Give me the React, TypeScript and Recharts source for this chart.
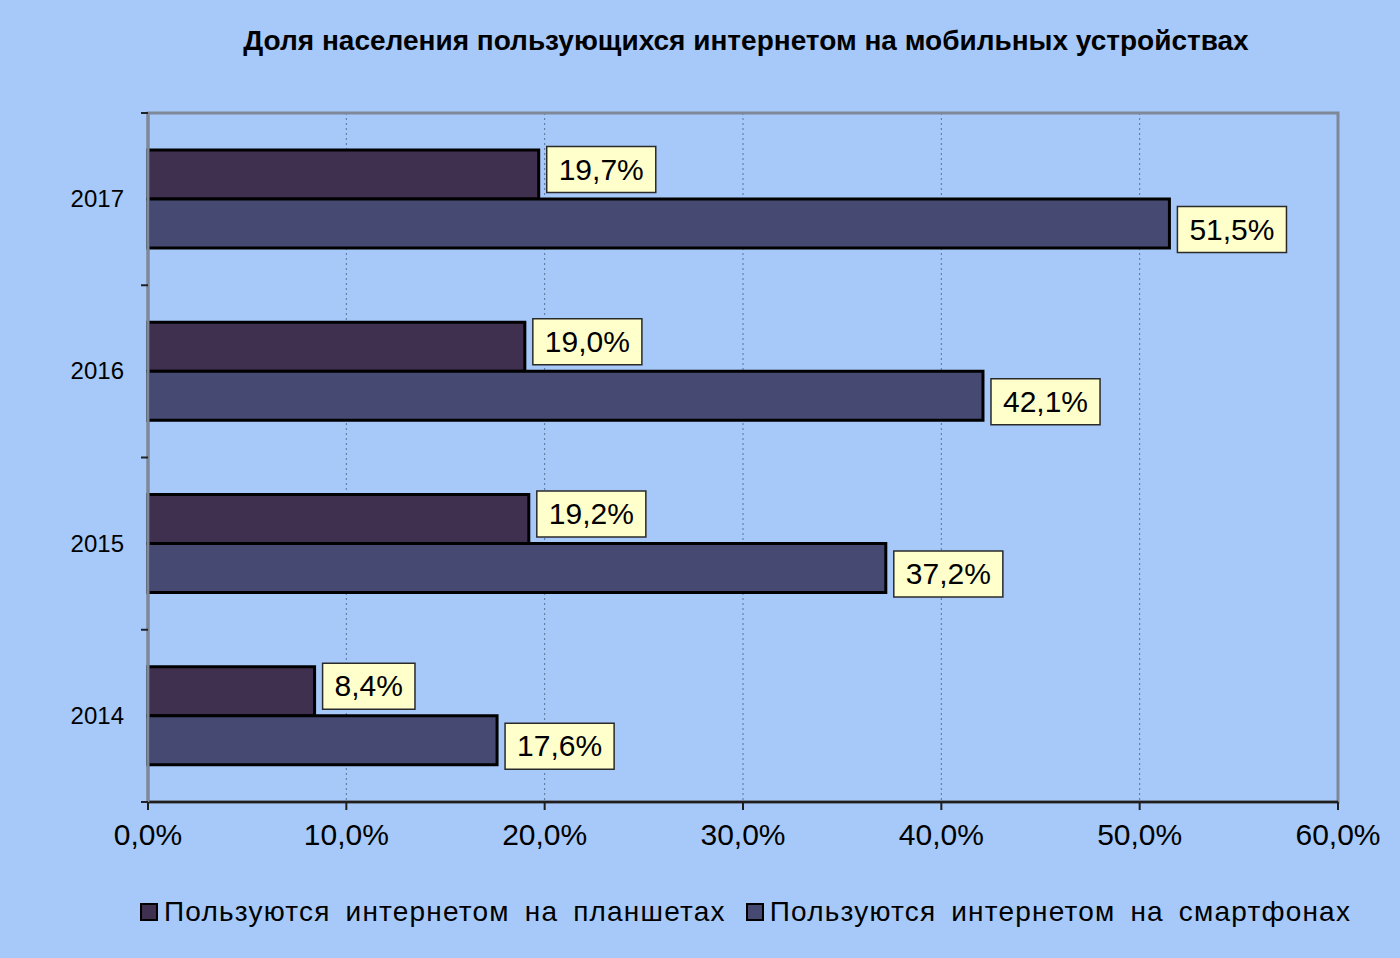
import React from "react";
import {
  BarChart,
  Bar,
  XAxis,
  YAxis,
  CartesianGrid,
  LabelList,
  ReferenceArea,
} from "recharts";

const years = ["2017", "2016", "2015", "2014"];
const tabletShare = [19.7, 19.0, 19.2, 8.4];
const phoneShare = [51.5, 42.1, 37.2, 17.6];
const xTicks = [0, 10, 20, 30, 40, 50, 60];
const seriesNames = [
  "Пользуются интернетом на планшетах",
  "Пользуются интернетом на смартфонах",
];
const TITLE = "Доля населения пользующихся интернетом на мобильных устройствах";

const W = 1400;
const H = 958;
const MARGIN = { top: 113, right: 62, bottom: 96, left: 68 };
const X_AXIS_H = 60;
const Y_AXIS_W = 80;
const BAND = (H - MARGIN.top - MARGIN.bottom - X_AXIS_H) / years.length;

const BG = "#a6c9fa";
const TABLET = "#40304f";
const PHONE = "#464a73";
const FRAME = "#7f8898";
const FONT = "'Liberation Sans', Arial, sans-serif";

const data = years.map((year, i) => ({
  year,
  tablet: tabletShare[i],
  phone: phoneShare[i],
}));

const fmt = (v: number) => v.toFixed(1).replace(".", ",") + "%";

// rough width of a label in Arial metrics
const textWidth = (s: string, size: number) =>
  s.split("").reduce((w, c) => w + (c === "," ? 0.278 : c === "%" ? 0.889 : 0.556), 0) * size;

const makeLabel = (dy: number) => (props: any) => {
  const { x, y, width, height, value } = props;
  const text = fmt(Number(value));
  const size = 30;
  const tw = textWidth(text, size);
  const bw = tw + 24;
  const bh = 46;
  const bx = Number(x) + Number(width) + 8;
  const cy = Number(y) + Number(height) / 2 + dy;
  return (
    <g>
      <rect x={bx} y={cy - bh / 2} width={bw} height={bh} fill="#ffffcc" stroke="#2a2a2a" strokeWidth={1.5} />
      <text x={bx + bw / 2} y={cy + 10} textAnchor="middle" fontSize={size} fontFamily={FONT} fill="#000">
        {text}
      </text>
    </g>
  );
};

const YearTick = (props: any) => {
  const { x, y, payload, index } = props;
  const axisX = Number(x) + 24;
  const top = Number(y) - BAND / 2;
  return (
    <g>
      <text x={x} y={Number(y) + 8} textAnchor="end" fontSize={24} fontFamily={FONT} fill="#000">
        {payload.value}
      </text>
      <line x1={axisX - 7} x2={axisX} y1={top} y2={top} stroke="#222" strokeWidth={2} />
      {index === years.length - 1 && (
        <line x1={axisX - 7} x2={axisX} y1={top + BAND} y2={top + BAND} stroke="#222" strokeWidth={2} />
      )}
    </g>
  );
};

export default function App() {
  return (
    <div
      style={{
        position: "absolute",
        left: 0,
        top: 0,
        width: W,
        height: H,
        background: BG,
        fontFamily: FONT,
      }}
    >
      <div
        style={{
          position: "absolute",
          top: 25,
          left: 0,
          width: 1492,
          textAlign: "center",
          fontSize: 28,
          fontWeight: 700,
          color: "#000",
        }}
      >
        {TITLE}
      </div>
      <BarChart
        width={W}
        height={H}
        data={data}
        layout="vertical"
        margin={MARGIN}
        barCategoryGap={37}
        barGap={0}
      >
        <CartesianGrid
          horizontal={false}
          vertical
          stroke="#5a7296"
          strokeDasharray="2 3"
          strokeWidth={1}
        />
        <ReferenceArea
          x1={0}
          x2={60}
          fill="none"
          fillOpacity={0}
          stroke={FRAME}
          strokeWidth={3}
          ifOverflow="visible"
        />
        <XAxis
          type="number"
          domain={[0, 60]}
          ticks={xTicks}
          tickFormatter={fmt}
          height={X_AXIS_H}
          tickSize={8}
          tickMargin={14}
          axisLine={{ stroke: "#1e1e1e", strokeWidth: 2.5 }}
          tickLine={{ stroke: "#1e1e1e", strokeWidth: 2 }}
          tick={{ fontSize: 30, fill: "#000", fontFamily: FONT }}
          interval={0}
        />
        <YAxis
          type="category"
          dataKey="year"
          width={Y_AXIS_W}
          tickSize={0}
          tickMargin={24}
          tickLine={false}
          axisLine={{ stroke: FRAME, strokeWidth: 3 }}
          tick={<YearTick />}
          interval={0}
        />
        <Bar
          dataKey="tablet"
          name={seriesNames[0]}
          fill={TABLET}
          stroke="#000"
          strokeWidth={3}
          isAnimationActive={false}
        >
          <LabelList dataKey="tablet" content={makeLabel(-5)} />
        </Bar>
        <Bar
          dataKey="phone"
          name={seriesNames[1]}
          fill={PHONE}
          stroke="#000"
          strokeWidth={3}
          isAnimationActive={false}
        >
          <LabelList dataKey="phone" content={makeLabel(6)} />
        </Bar>
      </BarChart>
      <div
        style={{
          position: "absolute",
          top: 896,
          left: 140,
          display: "flex",
          alignItems: "center",
          fontSize: 28,
          color: "#000",
          letterSpacing: 1.2,
          wordSpacing: 6,
          whiteSpace: "pre",
        }}
      >
        {seriesNames.map((name, i) => (
          <div key={name} style={{ display: "flex", alignItems: "center", marginRight: 20 }}>
            <span
              style={{
                width: 14,
                height: 14,
                background: i === 0 ? TABLET : PHONE,
                border: "2px solid #000",
                marginRight: 6,
                display: "inline-block",
              }}
            />
            <span>{name}</span>
          </div>
        ))}
      </div>
    </div>
  );
}
